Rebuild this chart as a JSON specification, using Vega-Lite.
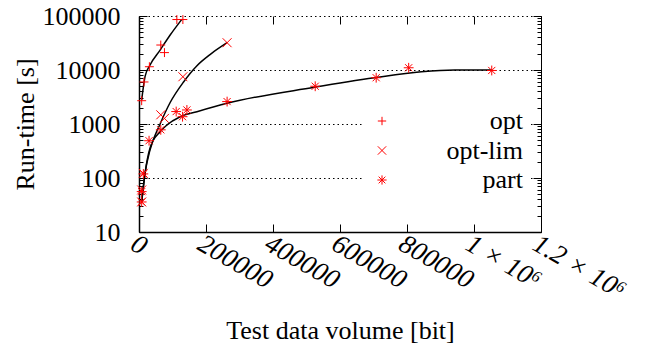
{
  "$schema": "https://vega.github.io/schema/vega-lite/v6.json",
  "autosize": "none",
  "padding": {"left": 139, "top": 16, "right": 114, "bottom": 119},
  "width": 402,
  "height": 216,
  "background": "white",
  "config": {
    "font": "Liberation Serif",
    "view": {"stroke": null},
    "axis": {
      "labelFont": "Liberation Serif",
      "titleFont": "Liberation Serif",
      "labelFontSize": 26,
      "titleFontSize": 26,
      "titleFontWeight": "normal",
      "labelColor": "black",
      "titleColor": "black",
      "domainColor": "black",
      "tickColor": "black",
      "labelOverlap": false,
      "labelFlush": false
    },
    "legend": {
      "labelFont": "Liberation Serif",
      "labelFontSize": 26,
      "labelColor": "black"
    }
  },
  "datasets": {
    "curves": [
      {"series": "opt", "x": 8000, "y": 2780},
      {"series": "opt", "x": 18000, "y": 7520},
      {"series": "opt", "x": 33000, "y": 12400},
      {"series": "opt", "x": 63000, "y": 23400},
      {"series": "opt", "x": 93000, "y": 44500},
      {"series": "opt", "x": 128000, "y": 87000},
      {"series": "opt-lim", "x": 8000, "y": 36},
      {"series": "opt-lim", "x": 18000, "y": 122},
      {"series": "opt-lim", "x": 33000, "y": 331},
      {"series": "opt-lim", "x": 63000, "y": 1000},
      {"series": "opt-lim", "x": 93000, "y": 2500},
      {"series": "opt-lim", "x": 133000, "y": 6000},
      {"series": "opt-lim", "x": 173000, "y": 12000},
      {"series": "opt-lim", "x": 213000, "y": 19500},
      {"series": "opt-lim", "x": 263000, "y": 32000},
      {"series": "part", "x": 8000, "y": 36},
      {"series": "part", "x": 18000, "y": 122},
      {"series": "part", "x": 33000, "y": 360},
      {"series": "part", "x": 63000, "y": 720},
      {"series": "part", "x": 83000, "y": 955},
      {"series": "part", "x": 123000, "y": 1365},
      {"series": "part", "x": 173000, "y": 1690},
      {"series": "part", "x": 263000, "y": 2415},
      {"series": "part", "x": 523000, "y": 4790},
      {"series": "part", "x": 703000, "y": 7200},
      {"series": "part", "x": 843000, "y": 9300},
      {"series": "part", "x": 943000, "y": 10000},
      {"series": "part", "x": 1053000, "y": 10000}
    ],
    "points": [
      {"series": "opt", "x": 8000, "y": 2700},
      {"series": "opt", "x": 15000, "y": 6000},
      {"series": "opt", "x": 31000, "y": 11500},
      {"series": "opt", "x": 65000, "y": 29000},
      {"series": "opt", "x": 76000, "y": 21000},
      {"series": "opt", "x": 113000, "y": 86000},
      {"series": "opt", "x": 131000, "y": 86000},
      {"series": "opt-lim", "x": 8000, "y": 36},
      {"series": "opt-lim", "x": 8000, "y": 60},
      {"series": "opt-lim", "x": 13000, "y": 122},
      {"series": "opt-lim", "x": 65000, "y": 1480},
      {"series": "opt-lim", "x": 76000, "y": 1270},
      {"series": "opt-lim", "x": 131000, "y": 7500},
      {"series": "opt-lim", "x": 263000, "y": 32000},
      {"series": "part", "x": 8000, "y": 36},
      {"series": "part", "x": 8000, "y": 56},
      {"series": "part", "x": 13000, "y": 119},
      {"series": "part", "x": 30000, "y": 490},
      {"series": "part", "x": 65000, "y": 780},
      {"series": "part", "x": 111000, "y": 1700},
      {"series": "part", "x": 130000, "y": 1365},
      {"series": "part", "x": 143000, "y": 1820},
      {"series": "part", "x": 263000, "y": 2600},
      {"series": "part", "x": 526000, "y": 5000},
      {"series": "part", "x": 708000, "y": 7200},
      {"series": "part", "x": 805000, "y": 11000},
      {"series": "part", "x": 1053000, "y": 9800}
    ]
  },
  "resolve": {"axis": {"x": "independent", "y": "independent"}},
  "layer": [
    {
      "data": {"name": "curves"},
      "mark": {"type": "line", "color": "black", "strokeWidth": 1.5, "interpolate": "monotone"},
      "encoding": {
        "detail": {"field": "series"},
        "x": {
          "field": "x", "type": "quantitative",
          "scale": {"domain": [0, 1200000], "nice": false},
          "axis": {
            "orient": "bottom",
            "title": "Test data volume [bit]",
            "titlePadding": 14,
            "values": [0, 200000, 400000, 600000, 800000, 1000000, 1200000],
            "format": "d",
            "labelExpr": "datum.value == 1000000 ? '1 × 10⁶' : datum.value == 1200000 ? '1.2 × 10⁶' : datum.label",
            "labelAngle": 30,
            "labelAlign": "left",
            "labelBaseline": "top",
            "labelFontStyle": "italic",
            "labelFontSize": 27,
            "labelPadding": 6,
            "tickSize": -8,
            "domainWidth": 1.5,
            "grid": false
          }
        },
        "y": {
          "field": "y", "type": "quantitative",
          "scale": {"type": "log", "domain": [10, 100000], "nice": false},
          "axis": {
            "orient": "left",
            "title": "Run-time [s]",
            "titlePadding": 4,
            "values": [10, 100, 1000, 10000, 100000],
            "format": "d",
            "tickSize": -8,
            "labelPadding": 27,
            "domainWidth": 1.5,
            "grid": true,
            "gridColor": "black",
            "gridDash": [1.5, 3],
            "gridWidth": 1
          }
        }
      }
    },
    {
      "data": {"name": "points"},
      "mark": {"type": "point", "color": "#ff0000", "filled": false, "strokeWidth": 1, "size": 80, "opacity": 1},
      "encoding": {
        "x": {
          "field": "x", "type": "quantitative",
          "axis": {
            "orient": "top", "title": null, "labels": false, "domain": false, "grid": false,
            "values": [0, 200000, 400000, 600000, 800000, 1000000, 1200000],
            "tickSize": -8
          }
        },
        "y": {
          "field": "y", "type": "quantitative",
          "axis": {
            "orient": "left", "title": null, "labels": false, "domain": false, "grid": false,
            "values": [20,30,40,50,60,70,80,90,200,300,400,500,600,700,800,900,2000,3000,4000,5000,6000,7000,8000,9000,20000,30000,40000,50000,60000,70000,80000,90000],
            "tickSize": -4
          }
        },
        "shape": {
          "field": "series", "type": "nominal",
          "scale": {
            "domain": ["opt", "opt-lim", "part"],
            "range": [
              "M-1,0L1,0M0,-1L0,1",
              "M-1,-1L1,1M-1,1L1,-1",
              "M-1.1,0L1.1,0M0,-1.1L0,1.1M-0.8,-0.8L0.8,0.8M-0.8,0.8L0.8,-0.8"
            ]
          },
          "legend": {
            "title": null,
            "orient": "none",
            "legendX": 224,
            "legendY": 86,
            "padding": 6,
            "fillColor": "white",
            "strokeColor": null,
            "symbolSize": 70,
            "symbolStrokeWidth": 1,
            "symbolStrokeColor": "#ff0000",
            "symbolFillColor": "transparent",
            "labelAlign": "right",
            "labelOffset": 128,
            "rowPadding": 3.5
          }
        }
      }
    },
    {
      "data": {"name": "points"},
      "mark": {"type": "point", "opacity": 0},
      "encoding": {
        "x": {"field": "x", "type": "quantitative", "axis": null},
        "y": {
          "field": "y", "type": "quantitative",
          "axis": {
            "orient": "right", "title": null, "labels": false, "grid": false,
            "values": [10, 100, 1000, 10000, 100000],
            "tickSize": -8, "domainWidth": 1
          }
        }
      }
    },
    {
      "data": {"name": "points"},
      "mark": {"type": "point", "opacity": 0},
      "encoding": {
        "x": {"field": "x", "type": "quantitative", "axis": null},
        "y": {
          "field": "y", "type": "quantitative",
          "axis": {
            "orient": "right", "title": null, "labels": false, "grid": false, "domain": false,
            "values": [20,30,40,50,60,70,80,90,200,300,400,500,600,700,800,900,2000,3000,4000,5000,6000,7000,8000,9000,20000,30000,40000,50000,60000,70000,80000,90000],
            "tickSize": -4
          }
        }
      }
    }
  ]
}
